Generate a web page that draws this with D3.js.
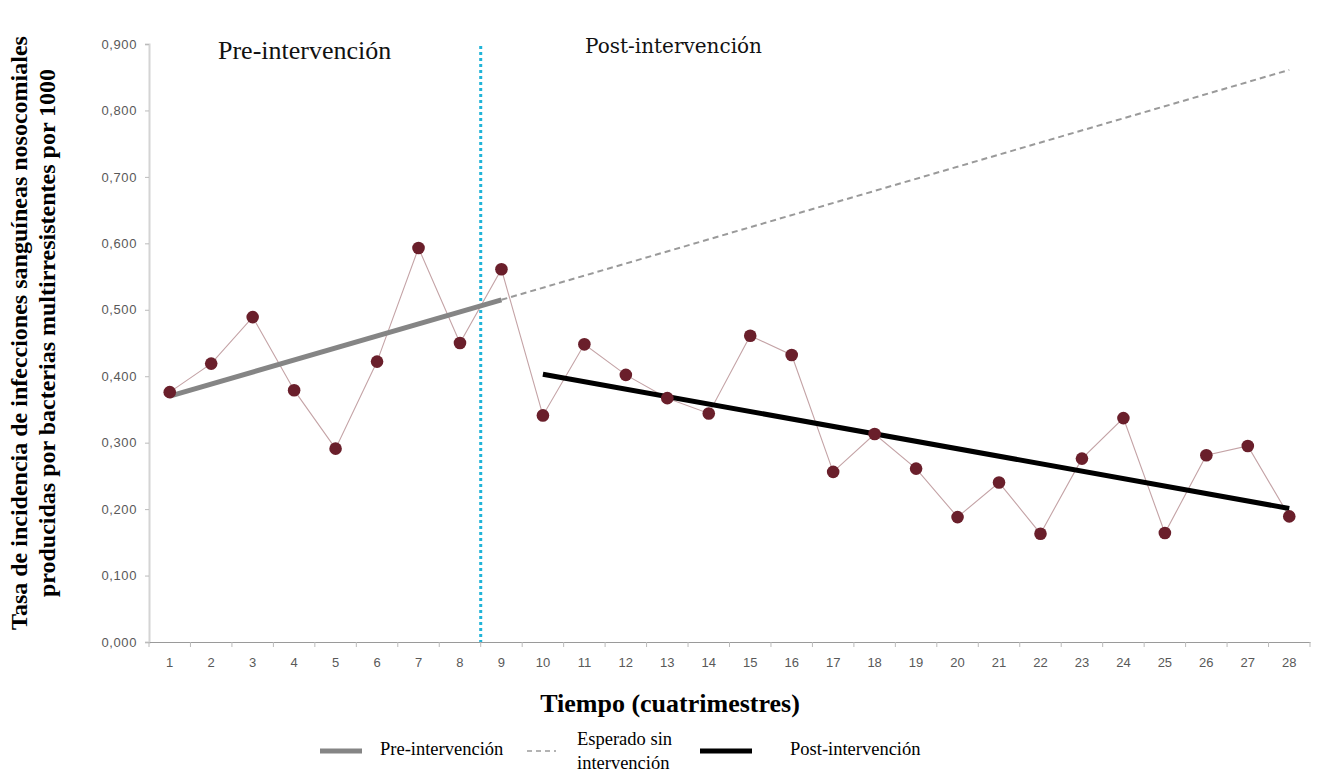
<!DOCTYPE html>
<html><head><meta charset="utf-8">
<script src="https://cdn.jsdelivr.net/npm/d3@7"></script>
<style>body{margin:0;background:#fff;}svg{display:block;}</style>
</head><body>
<svg id="c" width="1319" height="773"></svg>
<script>
const periods = d3.range(1, 29);
const rates = [0.376,0.419,0.489,0.379,0.291,0.422,0.593,0.450,0.561,0.341,0.448,0.402,0.367,0.344,0.461,0.432,0.256,0.313,0.261,0.188,0.240,0.163,0.276,0.337,0.164,0.281,0.295,0.189];
const preTrend = [{t:1, v:0.370},{t:9, v:0.515}];
const expectedTrend = [{t:9, v:0.515},{t:28, v:0.861}];
const postTrend = [{t:10, v:0.403},{t:28, v:0.201}];
const yTicks = [0,0.1,0.2,0.3,0.4,0.5,0.6,0.7,0.8,0.9];
const interventionAt = 8.5;

(function(){
const svg = d3.select("#c");
const mLeft = 149, mRight = 1310, mTop = 44, mBottom = 642;
const xb = d3.scaleBand().domain(periods).range([mLeft, mRight]).padding(0);
const xl = d3.scaleLinear().domain([0.5, 28.5]).range([mLeft, mRight]);
const y = d3.scaleLinear().domain([0, 0.9]).range([mBottom, mTop]);
const tickFont = "Liberation Sans, Arial";

// y axis
const ya = svg.append("g").attr("transform", `translate(${mLeft},0)`)
  .call(d3.axisLeft(y).tickValues(yTicks).tickSize(4).tickFormat(d => d3.format(".3f")(d).replace(".", ",")));
ya.select(".domain").attr("stroke", "#d4d4d4").attr("stroke-width", 2);
ya.selectAll(".tick line").attr("stroke", "#bbb");
ya.selectAll(".tick text").attr("fill", "#595959").style("font-family", tickFont).style("font-size", "13px")
  .style("letter-spacing", "0.6px").attr("x", -12);

// x axis
const xa = svg.append("g").attr("transform", `translate(0,${mBottom})`)
  .call(d3.axisBottom(xb).tickSize(0).tickPadding(16));
xa.select(".domain").attr("stroke", "#9a9a9a").attr("stroke-width", 1);
xa.selectAll(".tick text").attr("fill", "#595959").style("font-family", tickFont).style("font-size", "13px");
svg.append("g").selectAll("line").data(d3.range(0.5, 29, 1)).join("line")
  .attr("x1", d => xl(d)).attr("x2", d => xl(d)).attr("y1", mBottom).attr("y2", mBottom + 5)
  .attr("stroke", "#bbb");

// intervention line
svg.append("line").attr("x1", xl(interventionAt)).attr("x2", xl(interventionAt))
  .attr("y1", 46).attr("y2", mBottom)
  .attr("stroke", "#20b4d8").attr("stroke-width", 3).attr("stroke-dasharray", "3,3");

// data line
const xc = d => xb(d) + xb.bandwidth() / 2;
const data = periods.map((p, i) => ({t: p, v: rates[i]}));
svg.append("path").datum(data)
  .attr("d", d3.line().x(d => xc(d.t)).y(d => y(d.v)))
  .attr("fill", "none").attr("stroke", "#c4a3a6").attr("stroke-width", 1.1);

// trends
const tl = d3.line().x(d => xl(d.t)).y(d => y(d.v));
svg.append("path").datum(expectedTrend).attr("d", tl).attr("fill", "none")
  .attr("stroke", "#9a9a9a").attr("stroke-width", 2).attr("stroke-dasharray", "6,4");
svg.append("path").datum(preTrend).attr("d", tl).attr("fill", "none")
  .attr("stroke", "#858585").attr("stroke-width", 5);
svg.append("path").datum(postTrend).attr("d", tl).attr("fill", "none")
  .attr("stroke", "#000").attr("stroke-width", 5);

// points
svg.append("g").selectAll("circle").data(data).join("circle")
  .attr("cx", d => xc(d.t)).attr("cy", d => y(d.v)).attr("r", 6.3)
  .attr("fill", "#6a1f2b");

// period labels
svg.append("text").attr("x", 218).attr("y", 59).text("Pre-intervención")
  .style("font-family", "Liberation Serif, Times New Roman").style("font-size", "26px").attr("fill", "#111");
svg.append("text").attr("x", 585).attr("y", 53).text("Post-intervención")
  .style("font-family", "DejaVu Serif, serif").style("font-size", "20px").attr("fill", "#111");

// axis titles
const yt = svg.append("text").attr("transform", "translate(0,333) rotate(-90)")
  .attr("text-anchor", "middle")
  .style("font-family", "Liberation Serif, Times New Roman").style("font-size", "24px").style("font-weight", "bold");
yt.append("tspan").attr("x", 0).attr("y", 27).text("Tasa de incidencia de infecciones sanguíneas nosocomiales");
yt.append("tspan").attr("x", 0).attr("y", 55).text("producidas por bacterias multirresistentes por 1000");

svg.append("text").attr("x", 670).attr("y", 712).attr("text-anchor", "middle")
  .style("font-family", "Liberation Serif, Times New Roman").style("font-size", "26px").style("font-weight", "bold")
  .text("Tiempo (cuatrimestres)");

// legend
const lg = svg.append("g").style("font-family", "Liberation Serif, Times New Roman").style("font-size", "18.5px");
lg.append("line").attr("x1", 320).attr("x2", 362).attr("y1", 751).attr("y2", 751).attr("stroke", "#858585").attr("stroke-width", 5);
lg.append("text").attr("x", 380).attr("y", 755).text("Pre-intervención");
lg.append("line").attr("x1", 527).attr("x2", 556).attr("y1", 751).attr("y2", 751).attr("stroke", "#9a9a9a").attr("stroke-width", 1.5).attr("stroke-dasharray", "5,4");
lg.append("text").attr("x", 577).attr("y", 745).text("Esperado sin");
lg.append("text").attr("x", 577).attr("y", 769).text("intervención");
lg.append("line").attr("x1", 700).attr("x2", 752).attr("y1", 751).attr("y2", 751).attr("stroke", "#000").attr("stroke-width", 5);
lg.append("text").attr("x", 790).attr("y", 755).text("Post-intervención");
})();
</script>
</body></html>
